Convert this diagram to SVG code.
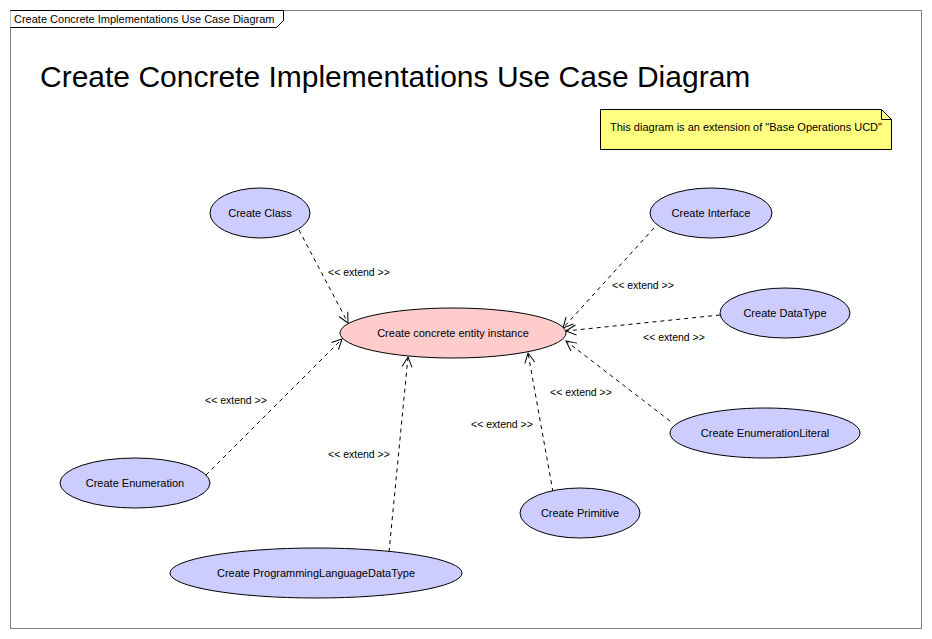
<svg xmlns="http://www.w3.org/2000/svg" width="932" height="639" viewBox="0 0 932 639">
<style>
text{font-family:"Liberation Sans",Arial,sans-serif;fill:#000}
.uc{fill:#ccccff;stroke:#000;stroke-width:1}
.main{fill:#ffcccc;stroke:#000;stroke-width:1}
.lbl{font-size:11px;text-anchor:middle}
.ext{font-size:10.5px}
.dep{fill:none;stroke:#000;stroke-width:1;stroke-dasharray:4,4;marker-end:url(#open)}
</style>
<defs>
<marker id="open" viewBox="0 0 12 12" refX="11" refY="6" markerWidth="12" markerHeight="12" markerUnits="userSpaceOnUse" orient="auto">
<path d="M1,1 L11,6 L1,11" fill="none" stroke="#000" stroke-width="1"/>
</marker>
</defs>
<rect width="932" height="639" fill="#fff"/>
<g id="frame">
<rect x="10.5" y="10.5" width="911" height="618" fill="none" stroke="#808080"/>
<path d="M10.5,10.5 H283.5 V20.5 L276.5,27.5 H10.5" fill="#fff" stroke="#000"/>
<text x="14" y="23" font-size="11px">Create Concrete Implementations Use Case Diagram</text>
</g>
<text id="title" x="40" y="87" font-size="30px">Create Concrete Implementations Use Case Diagram</text>
<g id="note">
<path d="M600.5,109.5 H881.5 L891.5,119.5 V149.5 H600.5 Z" fill="#ffff80" stroke="#000"/>
<path d="M881.5,109.5 V119.5 H891.5" fill="none" stroke="#000"/>
<text x="610" y="131" font-size="11px">This diagram is an extension of "Base Operations UCD"</text>
</g>
<g id="connectors">
<path class="dep" d="M299,230 L348,323"/>
<text class="ext" x="328" y="276">&lt;&lt; extend &gt;&gt;</text>
<path class="dep" d="M654,228 L563,328"/>
<text class="ext" x="612" y="289">&lt;&lt; extend &gt;&gt;</text>
<path class="dep" d="M720,315 L566,331"/>
<text class="ext" x="643" y="341">&lt;&lt; extend &gt;&gt;</text>
<path class="dep" d="M670,421 L566,341"/>
<text class="ext" x="550" y="396">&lt;&lt; extend &gt;&gt;</text>
<path class="dep" d="M553,492 L528,353"/>
<text class="ext" x="471" y="428">&lt;&lt; extend &gt;&gt;</text>
<path class="dep" d="M389,552 L408,357"/>
<text class="ext" x="328" y="458">&lt;&lt; extend &gt;&gt;</text>
<path class="dep" d="M206,475 L342,339"/>
<text class="ext" x="205" y="404">&lt;&lt; extend &gt;&gt;</text>
</g>
<g id="n_main"><ellipse class="main" cx="453" cy="333" rx="113" ry="25"/><text class="lbl" x="453" y="337">Create concrete entity instance</text></g>
<g id="n_class"><ellipse class="uc" cx="260" cy="213" rx="50" ry="25"/><text class="lbl" x="260" y="217">Create Class</text></g>
<g id="n_interface"><ellipse class="uc" cx="711" cy="213" rx="61" ry="25"/><text class="lbl" x="711" y="217">Create Interface</text></g>
<g id="n_datatype"><ellipse class="uc" cx="785" cy="313" rx="65" ry="25"/><text class="lbl" x="785" y="317">Create DataType</text></g>
<g id="n_enumlit"><ellipse class="uc" cx="765" cy="433" rx="95" ry="25"/><text class="lbl" x="765" y="437">Create EnumerationLiteral</text></g>
<g id="n_enum"><ellipse class="uc" cx="135" cy="483" rx="75" ry="25"/><text class="lbl" x="135" y="487">Create Enumeration</text></g>
<g id="n_primitive"><ellipse class="uc" cx="580" cy="513" rx="60" ry="25"/><text class="lbl" x="580" y="517">Create Primitive</text></g>
<g id="n_pldt"><ellipse class="uc" cx="316" cy="573" rx="146" ry="25"/><text class="lbl" x="316" y="577">Create ProgrammingLanguageDataType</text></g>
</svg>
